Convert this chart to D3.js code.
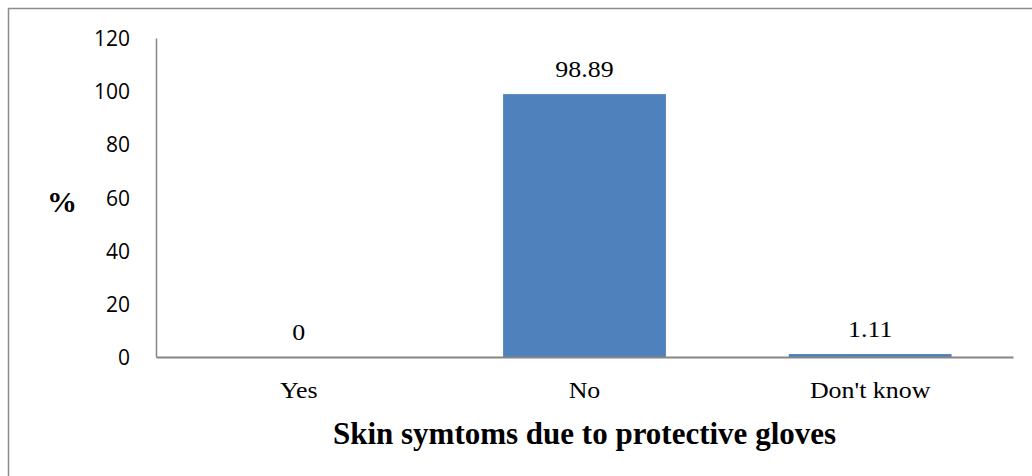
<!DOCTYPE html>
<html>
<head>
<meta charset="utf-8">
<script src="https://cdn.jsdelivr.net/npm/d3@7"></script>
<style>
  html, body { margin: 0; padding: 0; background: #fff; }
  svg { display: block; }
</style>
</head>
<body>
<svg id="chart" width="1032" height="476"></svg>
<script>
// Survey answers: skin symptoms caused by protective gloves
const categories = ["Yes", "No", "Don't know"];
const percents = [0, 98.89, 1.11];
const yTicks = [0, 20, 40, 60, 80, 100, 120];
const xTitle = "Skin symtoms due to protective gloves";
const yTitle = "%";

const svg = d3.select("#chart");
const W = 1032, H = 476;
const plot = { left: 156, right: 1013, top: 38, bottom: 357 };
const serif = "'Liberation Serif', 'Times New Roman', serif";
const sans = "'Open Sans', 'Noto Sans', sans-serif";

// Outer frame (runs past the right and bottom edges)
svg.append("rect")
  .attr("x", 8.5).attr("y", 8.5)
  .attr("width", W + 20).attr("height", H + 20)
  .attr("fill", "none").attr("stroke", "#8c8c8c").attr("stroke-width", 1.5);

const x = d3.scaleBand()
  .domain(categories)
  .range([plot.left, plot.right])
  .paddingInner(0.43).paddingOuter(0.215);

const y = d3.scaleLinear().domain([0, 120]).range([plot.bottom, plot.top]);

const rows = categories.map((c, i) => ({ c, v: percents[i] }));

// Bars
svg.append("g").selectAll("rect")
  .data(rows)
  .join("rect")
  .attr("x", d => x(d.c))
  .attr("width", x.bandwidth())
  .attr("y", d => y(d.v))
  .attr("height", d => y(0) - y(d.v))
  .attr("fill", "#4F81BD");

// Y axis line and tick labels
const yAxis = svg.append("g")
  .attr("transform", `translate(${plot.left},0)`)
  .call(d3.axisLeft(y).tickValues(yTicks).tickSize(0).tickPadding(26));
yAxis.select(".domain").attr("stroke", "#868686").attr("stroke-width", 1.5);
yAxis.selectAll("text")
  .attr("font-family", sans)
  .attr("font-size", 21).attr("fill", "#000")
  .attr("dy", "0.36em");

// X axis line and category labels
const xAxis = svg.append("g")
  .attr("transform", `translate(0,${plot.bottom})`)
  .call(d3.axisBottom(x).tickSize(0).tickPadding(0));
xAxis.select(".domain").attr("stroke", "#868686").attr("stroke-width", 2);
xAxis.selectAll(".tick text")
  .attr("font-family", serif)
  .attr("font-size", 24).attr("fill", "#000")
  .attr("y", 0).attr("dy", 0)
  .attr("transform", "translate(0,41) scale(1.08,1)");

// Value labels
svg.append("g").selectAll("text")
  .data(rows)
  .join("text")
  .attr("transform", d => `translate(${x(d.c) + x.bandwidth() / 2},${y(d.v) - 17}) scale(1.08,1)`)
  .attr("text-anchor", "middle")
  .attr("font-family", serif)
  .attr("font-size", 24)
  .text(d => d3.format("")(d.v));

// Axis titles
svg.append("text")
  .attr("x", (plot.left + plot.right) / 2)
  .attr("y", 444)
  .attr("text-anchor", "middle")
  .attr("font-family", serif)
  .attr("font-size", 31).attr("font-weight", "bold")
  .text(xTitle);

svg.append("text")
  .attr("x", 62)
  .attr("y", 212)
  .attr("text-anchor", "middle")
  .attr("font-family", serif)
  .attr("font-size", 30).attr("font-weight", "bold")
  .text(yTitle);
</script>
</body>
</html>
